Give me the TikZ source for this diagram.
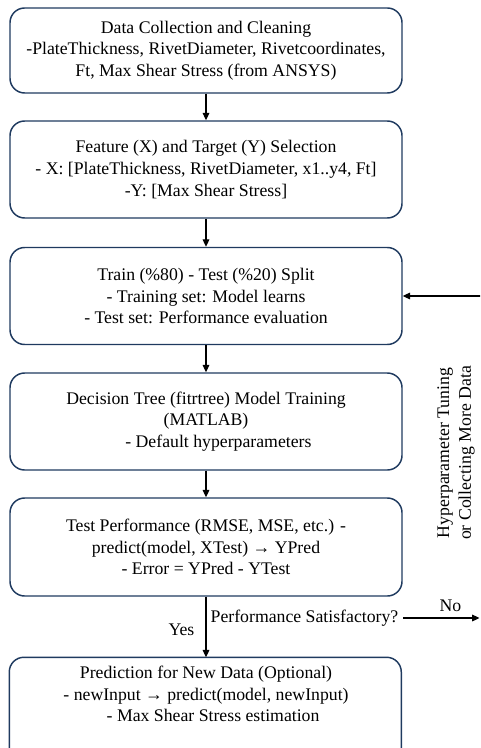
\documentclass[tikz,border=0pt]{standalone}
\usepackage{fontspec}
\setmainfont{Liberation Serif}
\usetikzlibrary{arrows.meta}
\definecolor{boxline}{HTML}{1F3A5F}

\begin{document}
\begin{tikzpicture}[x=0.75pt,y=-0.75pt,
  outline/.style={draw=boxline, line width=1.1pt, rounded corners=11pt},
  stage/.style={outline, minimum width=294pt, align=center,
    font=\fontsize{13.3}{16.2}\selectfont},
  flow/.style={-{Triangle[length=5.5pt,width=5pt]}, line width=0.8pt},
  lbl/.style={font=\fontsize{13.3}{16.2}\selectfont}]
  \useasboundingbox (0,0) rectangle (480,748);
  \clip (0,0) rectangle (480,748);

  % Define the stages of the flow, top to bottom
  \node[stage, minimum height=63.75pt] (data) at (206,50.5)
    {Data Collection and Cleaning\\-PlateThickness, RivetDiameter, Rivetcoordinates,\\Ft, Max Shear Stress (from ANSYS)};
  \node[stage, minimum height=72.75pt] (feature) at (206,169.5)
    {Feature (X) and Target (Y) Selection\\- X: [PlateThickness, RivetDiameter, x1..y4, Ft]\\-Y: [Max Shear Stress]};
  \node[stage, minimum height=72.75pt] (split) at (206,296)
    {Train (\%80) - Test (\%20) Split\\- Training set: Model learns\\- Test set: Performance evaluation};
  \node[stage, minimum height=72.75pt] (tree) at (206,421.5)
    {Decision Tree (fitrtree) Model Training\\(MATLAB)\\\hspace*{1.4em}- Default hyperparameters};
  \node[stage, minimum height=73.5pt] (test) at (206,547)
    {Test Performance (RMSE, MSE, etc.) -\\predict(model, XTest) → YPred\\- Error = YPred - YTest};
  % last box runs off the bottom edge
  \node[stage, draw=none, minimum height=54pt] (predict) at (206,694)
    {Prediction for New Data (Optional)\\- newInput → predict(model, newInput)\\\hspace*{0.8em}- Max Shear Stress estimation};
  \draw[outline] (predict.north west) rectangle ++(294pt,-90pt);

  % Decision text and the loop back
  \node[lbl, anchor=east] (ask) at (403,618) {Performance Satisfactory?};
  \coordinate (out) at (479.5,618);
  \coordinate (back) at (481,296);
  \node[lbl, rotate=90, align=center] (tune) at (456,453)
    {Hyperparameter Tuning\\or Collecting More Data};

  % Draw the flow edges
  \draw[flow] (data) -- (feature);
  \draw[flow] (feature) -- (split);
  \draw[flow] (split) -- (tree);
  \draw[flow] (tree) -- (test);
  \draw[flow] (test) -- node[lbl, pos=0.55, left=5pt] (yes) {Yes} (predict);
  \draw[flow] (ask.east) -- node[lbl, pos=0.62, above=1pt] (no) {No} (out);
  \draw[flow] (back) -- (split.east);
\end{tikzpicture}
\end{document}
